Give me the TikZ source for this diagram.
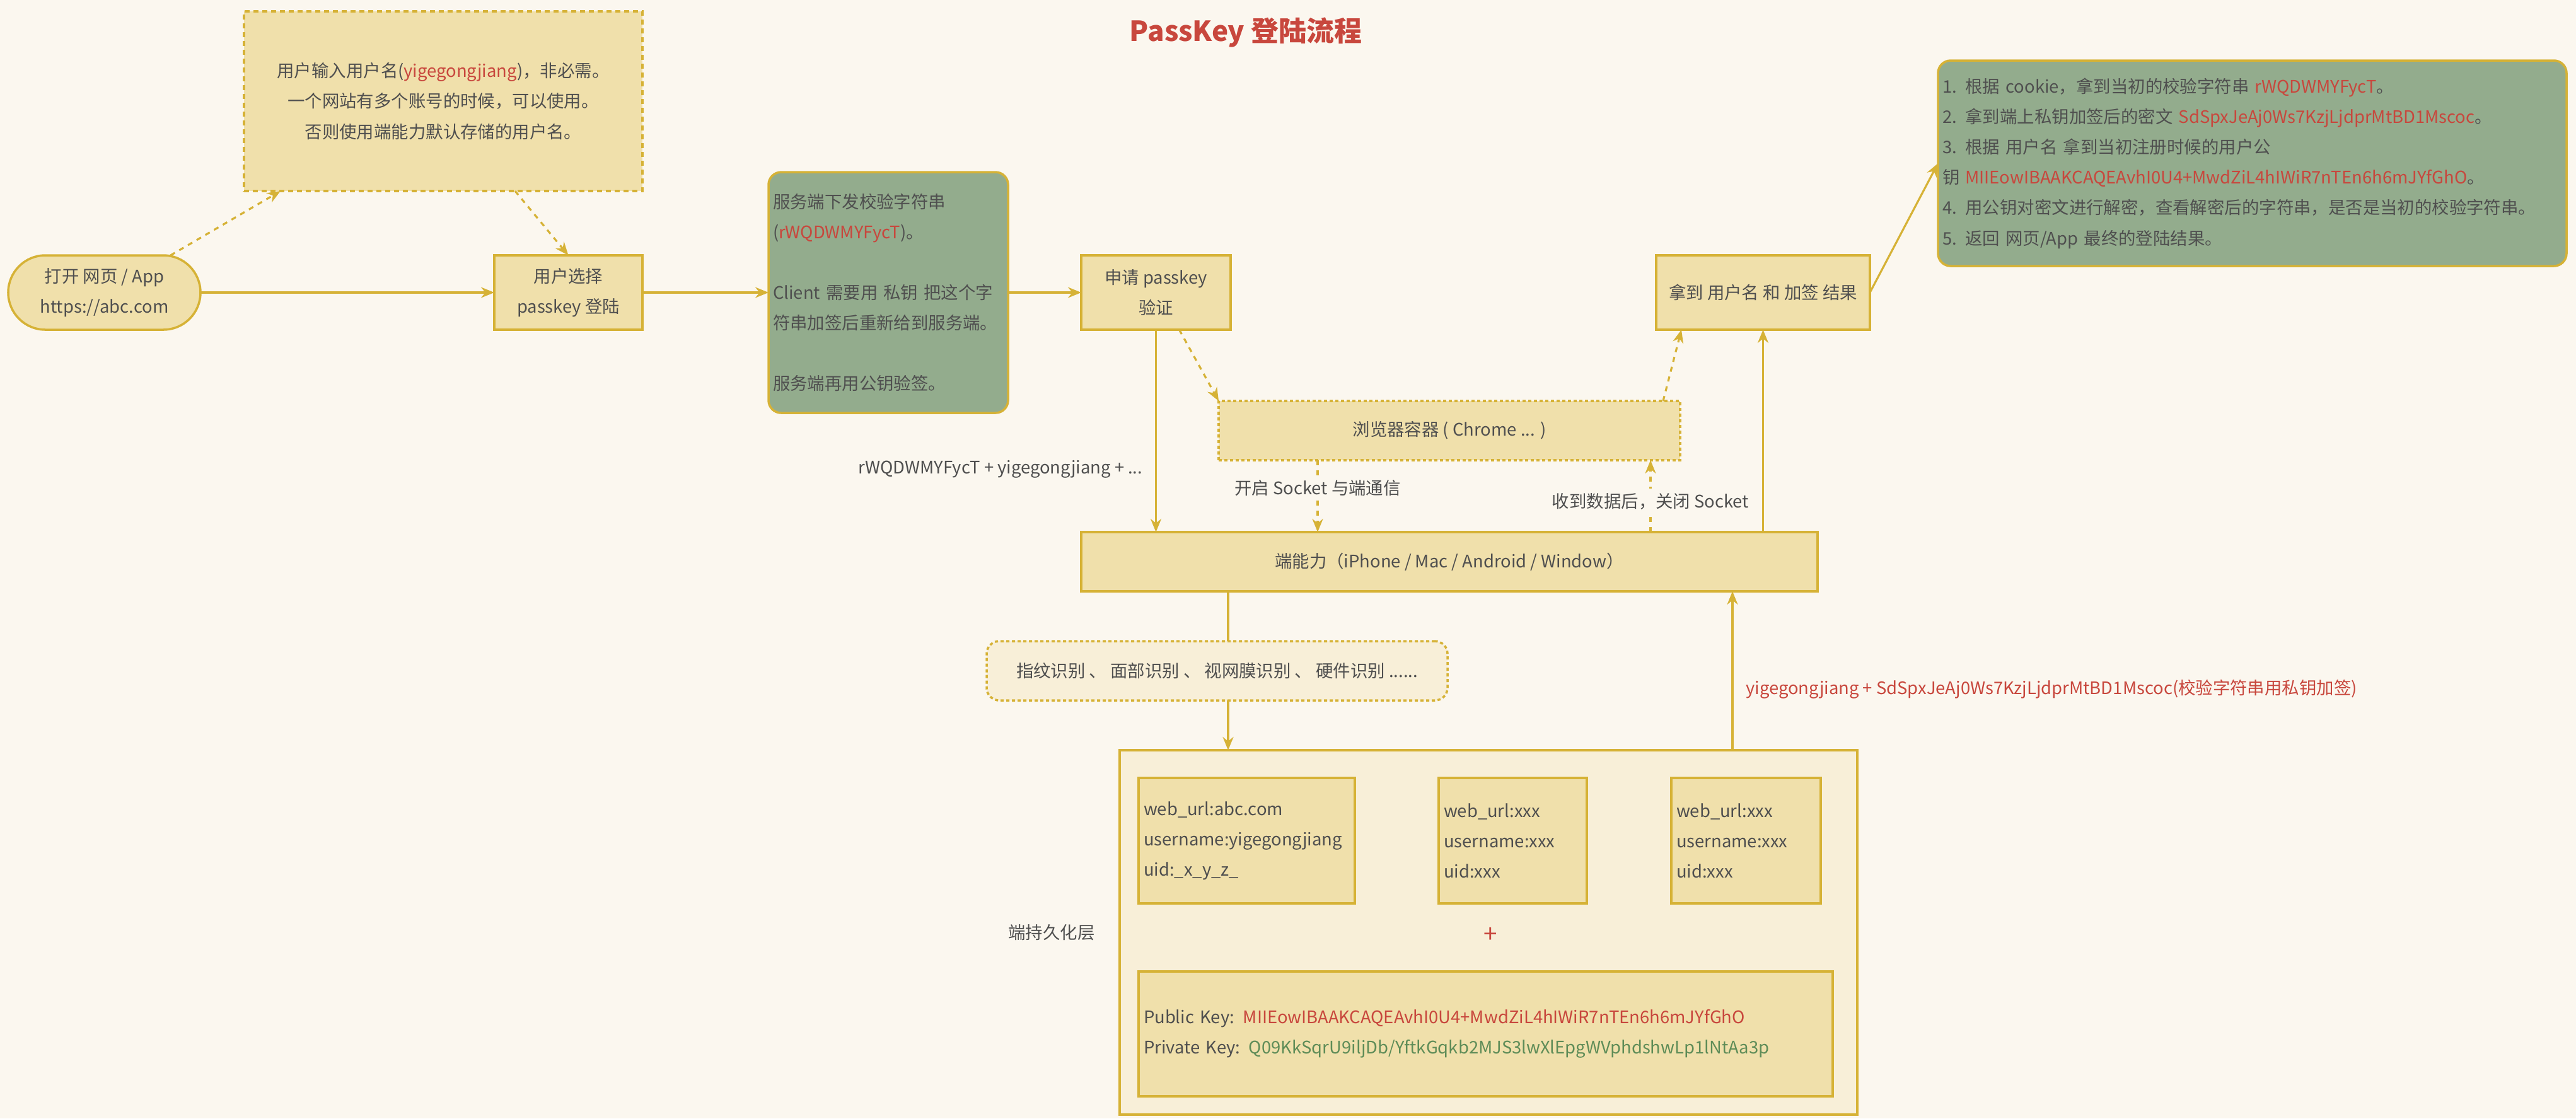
\documentclass[tikz,border=0pt]{standalone}
\usepackage{fontspec}
\setmainfont{Noto Sans CJK SC}
\usetikzlibrary{positioning, arrows.meta, calc}

\definecolor{bgcream}{HTML}{FBF7EF}
\definecolor{wheat}{HTML}{F0E0AB}
\definecolor{palewheat}{HTML}{F8EFD8}
\definecolor{gold}{HTML}{D6B236}
\definecolor{sage}{HTML}{93AC8D}
\definecolor{keyred}{HTML}{C8473D}
\definecolor{keygreen}{HTML}{5E8C57}
\definecolor{inkgray}{HTML}{4F4F4F}

\newcommand{\diagfont}{\fontsize{7.8pt}{13.7pt}\selectfont}

\begin{document}
\begin{tikzpicture}[
    block/.style={rectangle, draw=gold, fill=wheat, line width=1pt, align=center, inner sep=0pt, outer sep=0pt, text=inkgray, font=\diagfont},
    pill/.style={block, rounded corners=0.59cm},
    memo/.style={block, dash pattern=on 0.08cm off 0.06cm},
    dbox/.style={block, dash pattern=on 0.05cm off 0.04cm},
    sagebox/.style={block, fill=sage, rounded corners=0.2cm, align=left, inner xsep=0.07cm},
    layer/.style={block, fill=palewheat},
    cred/.style={block, align=left, inner xsep=0.08cm},
    lbl/.style={font=\diagfont, text=inkgray, fill=bgcream, inner sep=2pt},
    arr/.style={draw=gold, line width=0.9pt, -{Stealth[length=2.1mm, width=1.7mm]}},
    darr/.style={arr, dash pattern=on 0.08cm off 0.08cm},
    link/.style={draw=gold, line width=0.9pt},
]
\path [use as bounding box, fill=bgcream] (0,0) rectangle (40.86,-17.74);

\node [font={\fontsize{12.5pt}{15pt}\selectfont\bfseries}, text=keyred] (title) at (19.76,-0.51) {PassKey 登陆流程};

\node [pill, minimum width=3.05cm, minimum height=1.18cm] (start) at (1.655,-4.64) {
  打开 网页 / App\\
  https://abc.com
};

\node [block, right=4.66cm of start, minimum width=2.35cm, minimum height=1.18cm] (pick) {
  用户选择\\
  passkey 登陆
};

\node [memo, above=1.02cm of pick.north east, anchor=south east, minimum width=6.32cm, minimum height=2.85cm] (hint) {
  用户输入用户名(\textcolor{keyred}{yigegongjiang})，非必需。\\
  一个网站有多个账号的时候，可以使用。\\
  否则使用端能力默认存储的用户名。
};

\node [sagebox, right=2.0cm of pick, text width=3.66cm, minimum height=3.82cm] (server) {
  服务端下发校验字符串\\
  (\textcolor{keyred}{rWQDWMYFycT})。\\[4.8mm]
  Client 需要用 私钥 把这个字\\
  符串加签后重新给到服务端。\\[4.8mm]
  服务端再用公钥验签。
};

\node [block, right=1.16cm of server, minimum width=2.37cm, minimum height=1.18cm] (apply) {
  申请 passkey\\
  验证
};

\node [block, right=6.75cm of apply, minimum width=3.39cm, minimum height=1.18cm] (result) {拿到 用户名 和 加签 结果};

\node [sagebox, text width=9.83cm, minimum height=3.26cm] (check) at (35.725,-2.59) {
  1. 根据 cookie，拿到当初的校验字符串 \textcolor{keyred}{rWQDWMYFycT}。\\
  2. 拿到端上私钥加签后的密文 \textcolor{keyred}{SdSpxJeAj0Ws7KzjLjdprMtBD1Mscoc}。\\
  3. 根据 用户名 拿到当初注册时候的用户公\\
  钥 \textcolor{keyred}{MIIEowIBAAKCAQEAvhI0U4+MwdZiL4hIWiR7nTEn6h6mJYfGhO}。\\
  4. 用公钥对密文进行解密，查看解密后的字符串，是否是当初的校验字符串。\\
  5. 返回 网页/App 最终的登陆结果。
};

\node [block, below=3.21cm of apply.south west, anchor=north west, minimum width=11.68cm, minimum height=0.94cm] (device) {端能力（iPhone / Mac / Android / Window）};

\node [dbox, above=1.14cm of device, minimum width=7.32cm, minimum height=0.94cm] (browser) {浏览器容器 ( Chrome ... )};

\node [dbox, fill=palewheat, rounded corners=0.2cm, minimum width=7.31cm, minimum height=0.94cm] (bio) at (19.305,-10.64) {指纹识别 、 面部识别 、 视网膜识别 、 硬件识别 ......};

\node [layer, minimum width=11.70cm, minimum height=5.78cm] (store) at (23.61,-14.79) {};

\node [font=\diagfont, text=inkgray, left=0.27cm of store] (storelbl) {端持久化层};

\node [cred, below right=0.44cm and 0.30cm of store.north west, text width=3.27cm, minimum height=1.99cm] (credA) {
  web\_url:abc.com\\
  username:yigegongjiang\\
  uid:\_x\_y\_z\_
};

\node [cred, right=1.33cm of credA, text width=2.19cm, minimum height=1.99cm] (credB) {
  web\_url:xxx\\
  username:xxx\\
  uid:xxx
};

\node [cred, right=1.34cm of credB, text width=2.21cm, minimum height=1.99cm] (credC) {
  web\_url:xxx\\
  username:xxx\\
  uid:xxx
};

\node [font={\fontsize{11pt}{13pt}\selectfont}, text=keyred] (plus) at (23.64,-14.83) {+};

\node [cred, below=1.08cm of credA.south west, anchor=north west, text width=10.85cm, minimum height=1.98cm] (keys) {
  Public Key: \textcolor{keyred}{MIIEowIBAAKCAQEAvhI0U4+MwdZiL4hIWiR7nTEn6h6mJYfGhO}\\
  Private Key: \textcolor{keygreen}{Q09KkSqrU9iljDb/YftkGqkb2MJS3lwXlEpgWVphdshwLp1lNtAa3p}
};

\draw [arr] (start) -- (pick);
\draw [darr] ([xshift=1.05cm]start.north) -- ([xshift=0.58cm]hint.south west);
\draw [darr] ([xshift=4.30cm]hint.south west) -- (pick.north);
\draw [arr] (pick) -- (server);
\draw [arr] (server) -- (apply);
\draw [arr] (apply.south) -- node [pos=0.69, left=0.08cm, font=\diagfont, text=inkgray] {rWQDWMYFycT + yigegongjiang + ...} (apply.south |- device.north);
\draw [darr] ([xshift=0.37cm]apply.south) -- (browser.north west);
\draw [darr] ([xshift=1.57cm]browser.south west) -- node [lbl, pos=0.39] {开启 Socket 与端通信} ([xshift=1.57cm]browser.south west |- device.north);
\draw [darr] ([xshift=-0.47cm]browser.south east |- device.north) -- node [lbl, pos=0.43] {收到数据后，关闭 Socket} ([xshift=-0.47cm]browser.south east);
\draw [darr] ([xshift=-0.27cm]browser.north east) -- ([xshift=0.40cm]result.south west);
\draw [arr] (result.south |- device.north) -- (result.south);
\draw [arr] (result.east) -- (check.west);
\draw [link] ([xshift=2.33cm]device.south west) -- ([xshift=2.33cm]device.south west |- bio.north);
\draw [arr] ([xshift=2.33cm]device.south west |- bio.south) -- ([xshift=2.33cm]device.south west |- store.north);
\draw [arr] ([xshift=-1.98cm]store.north east) -- node [pos=0.385, right=0.08cm, font=\diagfont, text=keyred] {yigegongjiang + SdSpxJeAj0Ws7KzjLjdprMtBD1Mscoc(校验字符串用私钥加签)} ([xshift=-1.98cm]store.north east |- device.south);

\end{tikzpicture}
\end{document}
